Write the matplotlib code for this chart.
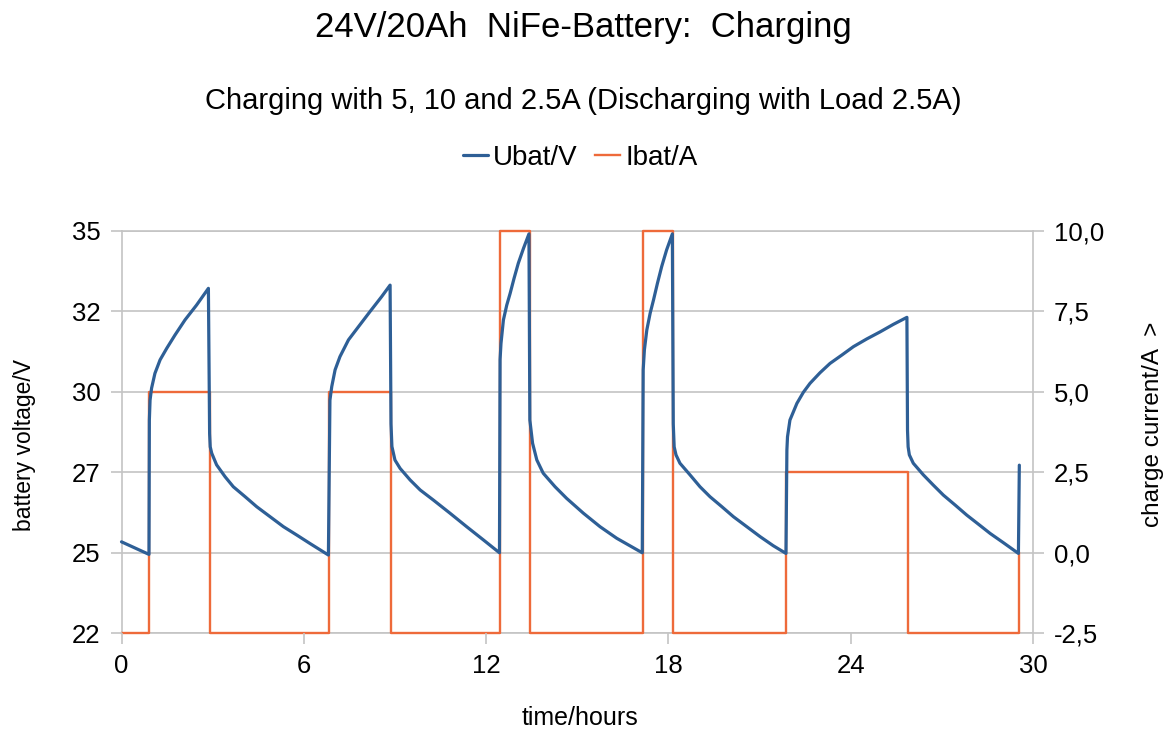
import matplotlib.pyplot as plt

plt.rcParams['font.family'] = ['Liberation Sans', 'DejaVu Sans']

# battery voltage (time in hours, voltage in V)
t_u = [0.0, 0.905,
       0.917, 0.94, 0.99, 1.10, 1.27, 1.49, 1.76, 2.09, 2.47, 2.86,
       2.90, 2.92, 2.97, 3.13, 3.41, 3.68, 4.07, 4.45, 4.89, 5.33, 5.77, 6.20, 6.81,
       6.86, 6.92, 7.03, 7.19, 7.47, 7.80, 8.18, 8.56, 8.84,
       8.87, 8.90, 9.00, 9.17, 9.50, 9.83, 10.26, 10.81, 11.36, 11.91, 12.44,
       12.46, 12.49, 12.57, 12.68, 12.79, 12.92, 13.06, 13.23, 13.41,
       13.44, 13.53, 13.67, 13.88, 14.27, 14.65, 15.20, 15.75, 16.30, 17.14,
       17.17, 17.21, 17.29, 17.40, 17.51, 17.64, 17.78, 17.94, 18.13,
       18.16, 18.19, 18.25, 18.38, 18.71, 19.04, 19.37, 19.76, 20.14, 20.58,
       21.02, 21.45, 21.87,
       21.90, 21.92, 22.00, 22.23, 22.44, 22.66, 22.99, 23.32, 23.71, 24.09,
       24.53, 24.97, 25.40, 25.85,
       25.87, 25.89, 25.93, 26.06, 26.39, 26.72, 27.05, 27.44, 27.82, 28.20,
       28.59, 29.03, 29.52, 29.55]
u_bat = [25.34, 24.95,
         29.12, 29.74, 30.11, 30.57, 30.99, 31.35, 31.76, 32.23, 32.69, 33.21,
         28.7, 28.29, 28.09, 27.73, 27.36, 27.05, 26.74, 26.43, 26.12, 25.81, 25.55, 25.29, 24.93,
         29.74, 30.16, 30.68, 31.09, 31.61, 32.02, 32.49, 32.95, 33.31,
         29.0, 28.3, 27.88, 27.62, 27.26, 26.95, 26.64, 26.23, 25.81, 25.40, 25.0,
         31.0, 31.5, 32.23, 32.69, 33.05, 33.52, 33.99, 34.45, 34.9,
         29.12, 28.40, 27.88, 27.47, 27.05, 26.69, 26.23, 25.81, 25.45, 25.0,
         30.68, 31.30, 31.92, 32.44, 32.85, 33.37, 33.89, 34.40, 34.9,
         29.0, 28.29, 28.04, 27.78, 27.42, 27.05, 26.74, 26.43, 26.12, 25.81,
         25.50, 25.22, 24.98,
         28.19, 28.60, 29.12, 29.64, 29.98, 30.26, 30.59, 30.88, 31.14, 31.40,
         31.64, 31.86, 32.09, 32.31,
         28.8, 28.29, 28.04, 27.78, 27.42, 27.10, 26.79, 26.48, 26.17, 25.89,
         25.60, 25.31, 24.98, 27.72]

# charger switching times (h) and current after each switch (A)
t_i = [0, 0.905, 2.91, 6.84, 8.88, 12.47, 13.45, 17.17, 18.15, 21.88, 25.87, 29.53]
i_bat = [-2.5, 5.0, -2.5, 5.0, -2.5, 10.0, -2.5, 10.0, -2.5, 2.5, -2.5, 0.0]

x_ticks = [0, 6, 12, 18, 24, 30]
u_ticks = [22.5, 25, 27.5, 30, 32.5, 35]
u_labels = ["22", "25", "27", "30", "32", "35"]
i_ticks = [-2.5, 0, 2.5, 5, 7.5, 10]
i_labels = ["-2,5", "0,0", "2,5", "5,0", "7,5", "10,0"]

blue = "#2e5f96"
orange = "#ee6a3a"
grey = "#c4c4c4"

W, H = 1167, 732
fig = plt.figure(figsize=(W / 100, H / 100), dpi=100)
ax = fig.add_axes([121.5 / W, 1 - 633.3 / H, (1033 - 121.5) / W, (633.3 - 230.7) / H])
ax2 = ax.twinx()
# voltage on top of current
ax.set_zorder(ax2.get_zorder() + 1)
ax.patch.set_visible(False)

l1, = ax.plot(t_u, u_bat, color=blue, lw=2.3, label="Ubat/V",
              solid_joinstyle="round", solid_capstyle="round", clip_on=False)
l2, = ax2.plot(t_i, i_bat, color=orange, lw=1.7, drawstyle="steps-post",
               label="Ibat/A", zorder=3, clip_on=False)

ax.set_xlim(0, 30)
ax.set_ylim(22.5, 35)
ax2.set_ylim(-2.5, 10)
ax.set_xticks(x_ticks)
ax.set_yticks(u_ticks)
ax.set_yticklabels(u_labels)
ax2.set_yticks(i_ticks)
ax2.set_yticklabels(i_labels)

ax2.grid(axis="y", color=grey, lw=1.2)
for s in ax.spines.values():
    s.set_visible(False)
for s in ax2.spines.values():
    s.set_color(grey)
    s.set_linewidth(1.2)
for a in (ax, ax2):
    a.tick_params(color=grey, length=8, width=1.2, labelsize=18.5, pad=7)

fig.text(0.5, 1 - 28 / H, "24V/20Ah  NiFe-Battery:  Charging",
         ha="center", va="center", fontsize=25)
fig.text(0.5, 1 - 101 / H, "Charging with 5, 10 and 2.5A (Discharging with Load 2.5A)",
         ha="center", va="center", fontsize=21)
fig.legend(handles=[l1, l2], loc="center", bbox_to_anchor=(580 / W, 1 - 158 / H),
           ncol=2, frameon=False, fontsize=20, handlelength=0.9,
           handletextpad=0.2, columnspacing=0.6)
fig.text(580 / W, 1 - 718 / H, "time/hours", ha="center", va="center", fontsize=18)
fig.text(25 / W, 1 - 445 / H, "battery voltage/V", ha="center", va="center",
         rotation=90, fontsize=16.5)
fig.text(1153 / W, 1 - 424 / H, "charge current/A  >", ha="center", va="center",
         rotation=90, fontsize=17.5)

fig.savefig("out.png", dpi=100)
